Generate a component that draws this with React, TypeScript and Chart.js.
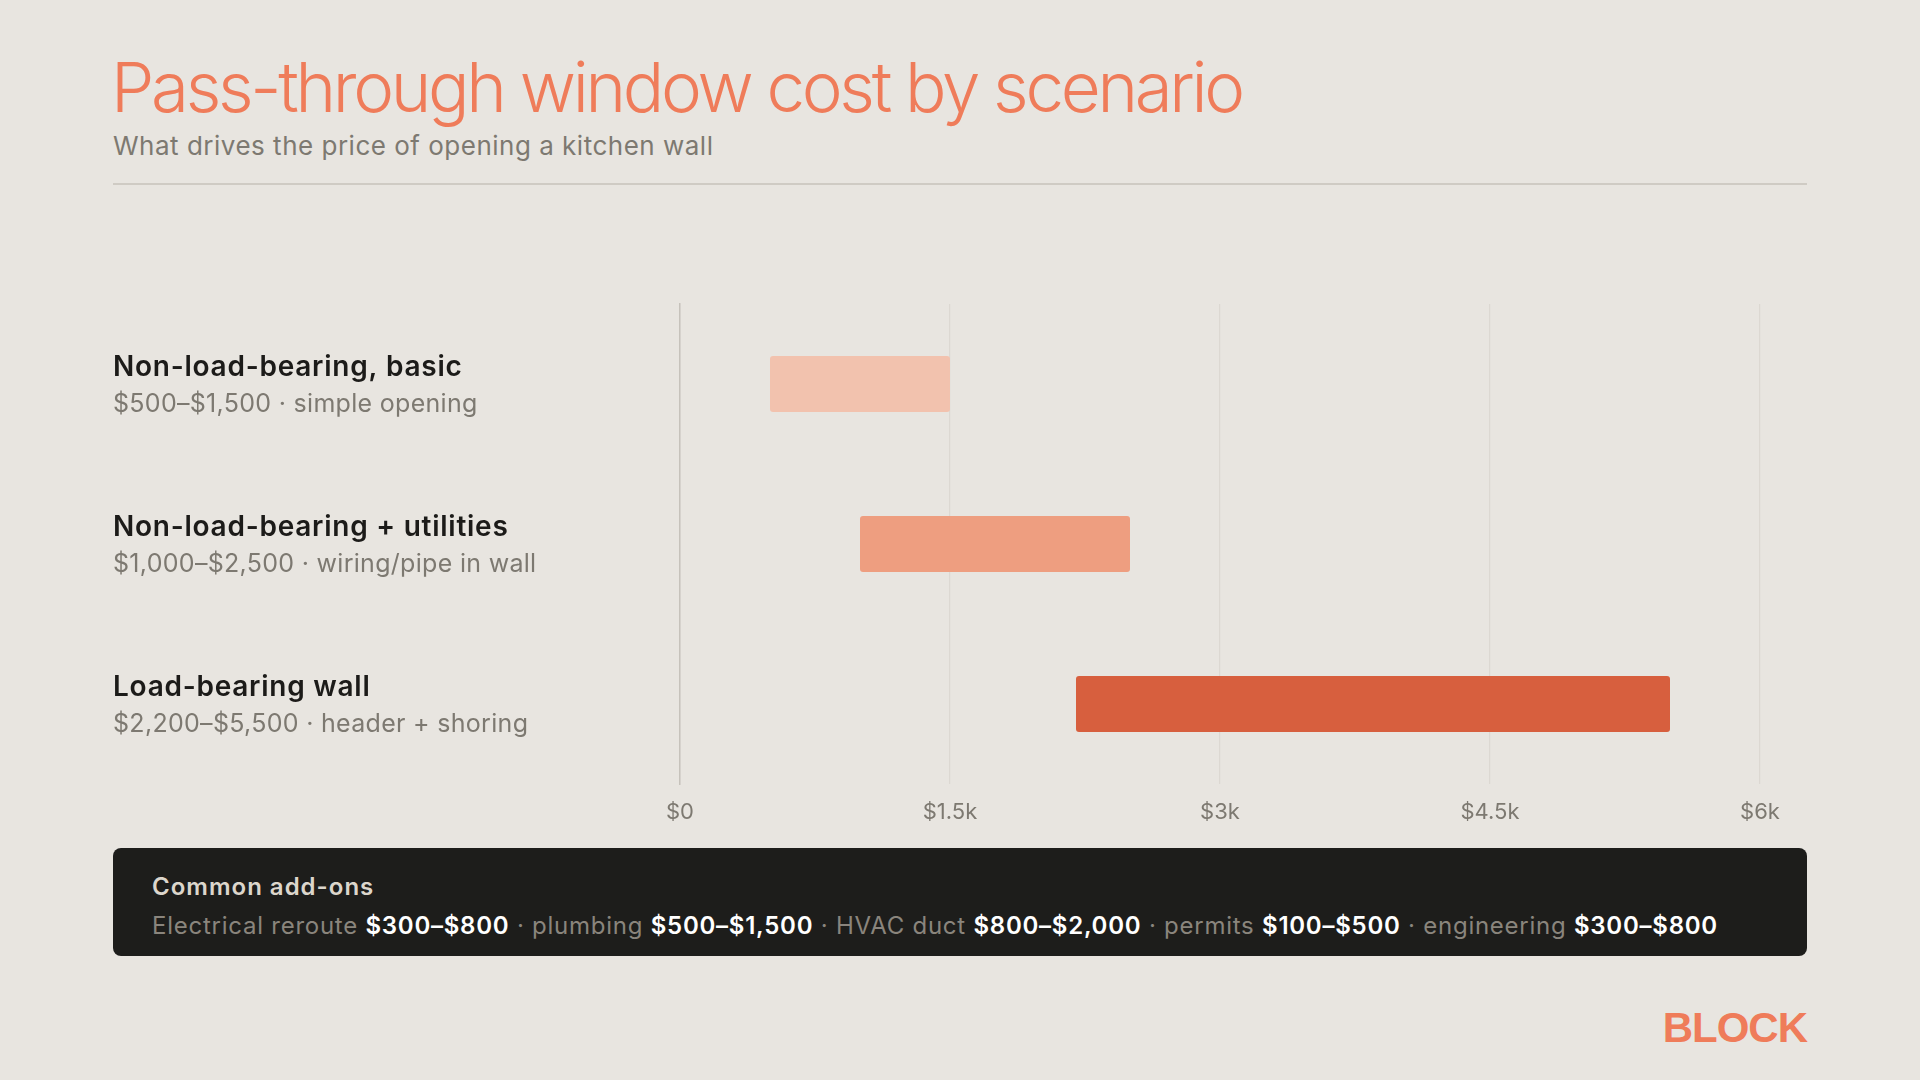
import React, { useEffect, useRef } from "react";
import { Chart, registerables } from "chart.js";

Chart.register(...registerables);

// Scenario ranges (USD)
const scenarios = ["Non-load-bearing, basic", "Non-load-bearing + utilities", "Load-bearing wall"];
const notes = ["simple opening", "wiring/pipe in wall", "header + shoring"];
const lows = [500, 1000, 2200];
const highs = [1500, 2500, 5500];
const barColors = ["#f2c2ae", "#ee9e80", "#d75f3e"];

// Axis ticks
const tickValues = [0, 1500, 3000, 4500, 6000];
const tickLabels = ["$0", "$1.5k", "$3k", "$4.5k", "$6k"];

// Add-on costs shown in the footer panel
const addonNames = ["Electrical reroute", "plumbing", "HVAC duct", "permits", "engineering"];
const addonRanges = ["$300–$800", "$500–$1,500", "$800–$2,000", "$100–$500", "$300–$800"];

const BG = "#e8e5e0";
const ACCENT = "#ef7c5a";
const FONT = "Inter, 'Noto Sans', sans-serif";

const money = (v: number) => "$" + v.toLocaleString("en-US");

const rowLabels = {
  id: "rowLabels",
  afterDraw(chart: any) {
    const { ctx, scales } = chart;
    const y = scales.y;
    ctx.save();
    ctx.textAlign = "left";
    ctx.textBaseline = "alphabetic";
    scenarios.forEach((name, i) => {
      const cy = y.getPixelForValue(i);
      ctx.fillStyle = "#1c1b19";
      ctx.font = `600 28px ${FONT}`;
      ctx.letterSpacing = "0.75px";
      ctx.fillText(name, 0, cy - 8);
      ctx.fillStyle = "#7d7971";
      ctx.font = `400 25px ${FONT}`;
      ctx.letterSpacing = "0.3px";
      ctx.fillText(`${money(lows[i])}–${money(highs[i])} · ${notes[i]}`, 0, cy + 28);
    });
    ctx.restore();
  },
};

function RangeChart() {
  const ref = useRef<HTMLCanvasElement | null>(null);
  useEffect(() => {
    if (!ref.current) return;
    const chart = new Chart(ref.current, {
      type: "bar",
      data: {
        labels: scenarios,
        datasets: [
          {
            data: lows.map((lo, i) => [lo, highs[i]]) as any,
            backgroundColor: barColors,
            borderRadius: 3,
            borderSkipped: false,
            barPercentage: 0.35,
            categoryPercentage: 1,
          },
        ],
      },
      options: {
        indexAxis: "y",
        responsive: false,
        animation: false,
        layout: { padding: { left: 567, right: 47, top: 24, bottom: 0 } },
        plugins: { legend: { display: false }, tooltip: { enabled: false } },
        scales: {
          x: {
            min: 0,
            max: 6000,
            afterBuildTicks: (s: any) => {
              s.ticks = tickValues.map((v) => ({ value: v }));
            },
            afterFit: (s: any) => {
              s.height = 56;
            },
            grid: { color: "#dcd8d2", lineWidth: 1.2, drawTicks: false },
            border: { display: false },
            ticks: {
              padding: 15,
              color: "#7d7971",
              font: { family: FONT, size: 22 },
              callback: (v: any) => tickLabels[tickValues.indexOf(Number(v))] ?? "",
            },
          },
          y: {
            grid: { display: false, drawTicks: false },
            border: { display: true, color: "#c6c2bb", width: 1.5 },
            ticks: { display: false },
            afterFit: (s: any) => {
              s.width = 0;
            },
          },
        },
      },
      plugins: [rowLabels],
    });
    return () => chart.destroy();
  }, []);
  return (
    <canvas
      ref={ref}
      width={1694}
      height={560}
      style={{ position: "absolute", left: 113, top: 280, width: 1694, height: 560 }}
    />
  );
}

export default function App() {
  useEffect(() => {
    document.body.style.margin = "0";
  }, []);
  return (
    <div
      style={{
        position: "fixed",
        left: 0,
        top: 0,
        width: 1920,
        height: 1080,
        background: BG,
        fontFamily: FONT,
        overflow: "hidden",
      }}
    >
      <div
        style={{
          position: "absolute",
          left: 111,
          top: 47,
          fontSize: 69,
          fontWeight: 300,
          color: ACCENT,
          letterSpacing: -3.3,
          lineHeight: "80px",
          whiteSpace: "nowrap",
        }}
      >
        Pass-through window cost by scenario
      </div>
      <div
        style={{
          position: "absolute",
          left: 113,
          top: 130,
          fontSize: 26,
          color: "#7d7971",
          letterSpacing: 0.5,
          lineHeight: "32px",
          whiteSpace: "nowrap",
        }}
      >
        What drives the price of opening a kitchen wall
      </div>
      <div style={{ position: "absolute", left: 113, top: 183, width: 1694, height: 1.5, background: "#cfcbc4" }} />

      <RangeChart />

      <div
        style={{
          position: "absolute",
          left: 113,
          top: 848,
          width: 1694,
          height: 108,
          background: "#1d1d1b",
          borderRadius: 8,
        }}
      >
        <div
          style={{
            position: "absolute",
            left: 39,
            top: 24,
            fontSize: 24,
            fontWeight: 600,
            color: "#dcd6cc",
            letterSpacing: 1,
            lineHeight: "30px",
            whiteSpace: "nowrap",
          }}
        >
          Common add-ons
        </div>
        <div
          style={{
            position: "absolute",
            left: 39,
            top: 63,
            fontSize: 24,
            color: "#8a857d",
            letterSpacing: 0.75,
            lineHeight: "30px",
            whiteSpace: "nowrap",
          }}
        >
          {addonNames.map((n, i) => (
            <span key={n}>
              {i > 0 ? " · " : ""}
              {n} <span style={{ color: "#ffffff", fontWeight: 600 }}>{addonRanges[i]}</span>
            </span>
          ))}
        </div>
      </div>

      <div
        style={{
          position: "absolute",
          right: 113,
          top: 1003,
          fontFamily: "'Liberation Sans', Arial, sans-serif",
          fontWeight: 700,
          fontSize: 42,
          letterSpacing: -1,
          color: ACCENT,
          lineHeight: "50px",
        }}
      >
        BLOCK
      </div>
    </div>
  );
}
